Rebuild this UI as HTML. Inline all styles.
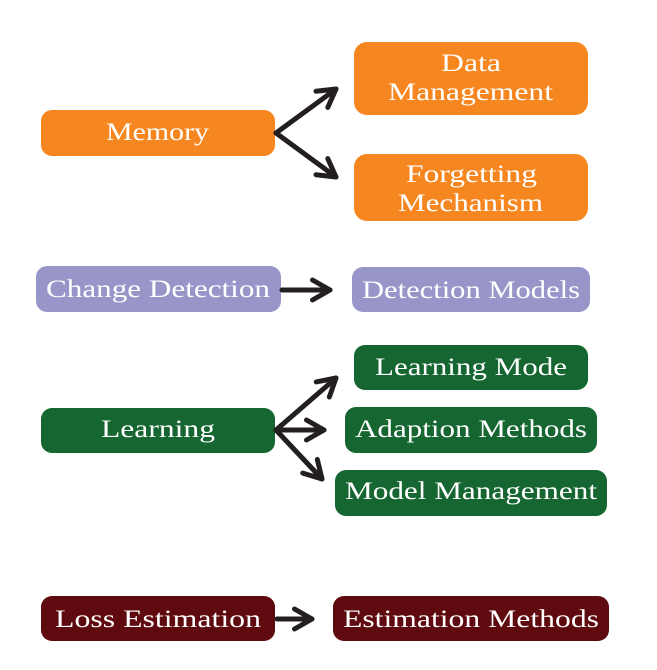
<!DOCTYPE html>
<html><head><style>
html,body{margin:0;padding:0;background:#fff;}
svg text{font-family:"Liberation Serif",serif;font-size:25px;fill:#fff;}
</style></head><body>
<svg width="657" height="665" viewBox="0 0 657 665" xmlns="http://www.w3.org/2000/svg">
<defs>
<marker id="a" viewBox="0 0 10 10" refX="8" refY="5" markerWidth="5" markerHeight="5" orient="auto" markerUnits="strokeWidth">
<path d="M1,1 L8,5 L1,9" fill="none" stroke="#231f20" stroke-width="2" stroke-linecap="round" stroke-linejoin="round"/>
</marker>
</defs>
<g fill="#f6861f">
<rect x="41" y="110" width="234" height="46" rx="11"/>
<rect x="354" y="42" width="234" height="73" rx="13"/>
<rect x="354" y="154" width="234" height="67" rx="13"/>
</g>
<g fill="#9896c8">
<rect x="36" y="266" width="245" height="46" rx="11"/>
<rect x="352" y="267" width="238" height="45" rx="11"/>
</g>
<g fill="#156631">
<rect x="41" y="408" width="234" height="45" rx="11"/>
<rect x="354" y="345" width="234" height="45" rx="11"/>
<rect x="345" y="407" width="252" height="46" rx="11"/>
<rect x="335" y="470" width="272" height="46" rx="11"/>
</g>
<g fill="#5e0a0e">
<rect x="41" y="596" width="234" height="45" rx="11"/>
<rect x="333" y="596" width="276" height="45" rx="11"/>
</g>
<g stroke="#231f20" stroke-width="5" fill="none" stroke-linecap="round" marker-end="url(#a)">
<line x1="276" y1="133" x2="336" y2="89"/>
<line x1="276" y1="133" x2="336" y2="177"/>
<line x1="282" y1="290" x2="330" y2="290"/>
<line x1="276" y1="430" x2="336" y2="378"/>
<line x1="276" y1="430" x2="324" y2="430"/>
<line x1="276" y1="430" x2="322" y2="479"/>
<line x1="277" y1="619" x2="312" y2="619"/>
</g>
<g lengthAdjust="spacingAndGlyphs">
<text x="106" y="140" textLength="103" lengthAdjust="spacingAndGlyphs">Memory</text>
<text x="441" y="71" textLength="60" lengthAdjust="spacingAndGlyphs">Data</text>
<text x="388" y="100" textLength="165" lengthAdjust="spacingAndGlyphs">Management</text>
<text x="406" y="182" textLength="131" lengthAdjust="spacingAndGlyphs">Forgetting</text>
<text x="398" y="211" textLength="145" lengthAdjust="spacingAndGlyphs">Mechanism</text>
<text x="46" y="297" textLength="224" lengthAdjust="spacingAndGlyphs">Change Detection</text>
<text x="362" y="298" textLength="218" lengthAdjust="spacingAndGlyphs">Detection Models</text>
<text x="101" y="437" textLength="114" lengthAdjust="spacingAndGlyphs">Learning</text>
<text x="375" y="375" textLength="192" lengthAdjust="spacingAndGlyphs">Learning Mode</text>
<text x="355" y="437" textLength="232" lengthAdjust="spacingAndGlyphs">Adaption Methods</text>
<text x="345" y="499" textLength="252" lengthAdjust="spacingAndGlyphs">Model Management</text>
<text x="55" y="627" textLength="206" lengthAdjust="spacingAndGlyphs">Loss Estimation</text>
<text x="343" y="627" textLength="256" lengthAdjust="spacingAndGlyphs">Estimation Methods</text>
</g>
</svg>
</body></html>
